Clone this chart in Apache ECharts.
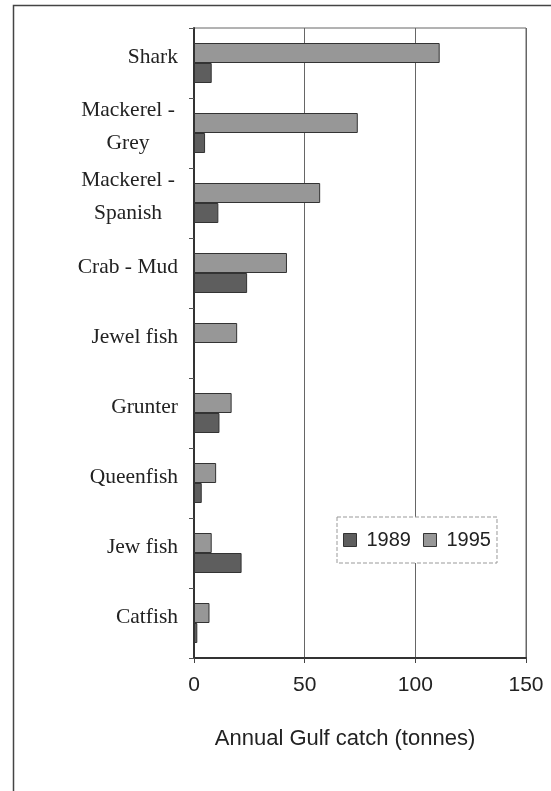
<!DOCTYPE html>
<html>
<head>
<meta charset="utf-8">
<script src="https://cdn.jsdelivr.net/npm/echarts@6/dist/echarts.min.js"></script>
<style>
  html, body { margin: 0; padding: 0; background: #fff; }
  #chart { width: 551px; height: 791px; }
</style>
</head>
<body>
<div id="chart"></div>
<script>
// fish species, top to bottom
const species = ['Shark', 'Mackerel -\nGrey', 'Mackerel -\nSpanish', 'Crab - Mud', 'Jewel fish',
  'Grunter', 'Queenfish', 'Jew fish', 'Catfish'];
// catch in tonnes
const catch1995 = [111, 74, 57, 42, 19.5, 17, 10, 8, 7];
const catch1989 = [8, 5, 11, 24, 0, 11.5, 3.5, 21.5, 1.5];
const xTicks = [0, 50, 100, 150];

const chart = echarts.init(document.getElementById('chart'));

const serif = 'Liberation Serif';
const sans = 'Liberation Sans';

// multi-line labels are centred line by line
function fmtLabel(v) {
  if (v.indexOf('\n') < 0) return v;
  return v.split('\n').map(s => '{c|' + s + '}').join('\n');
}

chart.setOption({
  animation: false,
  graphic: [{
    type: 'rect',
    shape: { x: 13.5, y: 5.5, width: 560, height: 820 },
    style: { fill: 'none', stroke: '#444', lineWidth: 1.5 },
    silent: true
  }],
  grid: {
    left: 194, top: 28, right: 25, bottom: 133,
    show: true, borderColor: '#666', borderWidth: 1
  },
  legend: {
    data: ['1989', '1995'],
    left: 337, top: 517,
    padding: [13, 6, 13, 6],
    itemWidth: 13, itemHeight: 13, itemGap: 12,
    backgroundColor: '#fff',
    borderColor: '#999', borderWidth: 1, borderType: 'dashed',
    textStyle: { fontFamily: sans, fontSize: 20, color: '#222', padding: [0, 0, 0, 5] },
    itemStyle: { borderColor: '#333', borderWidth: 1 },
    icon: 'rect'
  },
  xAxis: {
    type: 'value',
    min: 0, max: 150, interval: 50,
    name: 'Annual Gulf catch (tonnes)',
    nameLocation: 'middle',
    nameGap: 70,
    nameTextStyle: { fontFamily: sans, fontSize: 22, color: '#222', padding: [0, 30, 0, 0] },
    axisLine: { show: true, lineStyle: { color: '#333', width: 2 } },
    axisTick: { show: true, length: 5, lineStyle: { color: '#444' } },
    axisLabel: {
      fontFamily: sans, fontSize: 21, color: '#222', margin: 17,
      formatter: v => xTicks.indexOf(v) >= 0 ? String(v) : ''
    },
    splitLine: { show: true, lineStyle: { color: '#666', width: 1 } }
  },
  yAxis: {
    type: 'category',
    data: species,
    inverse: true,
    axisLine: { show: true, lineStyle: { color: '#333', width: 2 } },
    axisTick: { show: true, length: 5, lineStyle: { color: '#555' } },
    axisLabel: {
      fontFamily: serif, fontSize: 21.5, color: '#222', margin: 16,
      lineHeight: 33,
      padding: [0, 0, 12, 0],
      formatter: fmtLabel,
      rich: { c: { width: 100, align: 'center', fontFamily: serif, fontSize: 21.5, lineHeight: 33, color: '#222' } }
    },
    splitLine: { show: false }
  },
  series: [{
    name: '1995',
    type: 'bar',
    data: catch1995,
    barWidth: 20,
    barGap: '0%',
    itemStyle: { color: '#979797', borderColor: '#333', borderWidth: 1 }
  }, {
    name: '1989',
    type: 'bar',
    data: catch1989,
    barWidth: 20,
    barGap: '0%',
    itemStyle: { color: '#5e5e5e', borderColor: '#333', borderWidth: 1 }
  }]
});
</script>
</body>
</html>
